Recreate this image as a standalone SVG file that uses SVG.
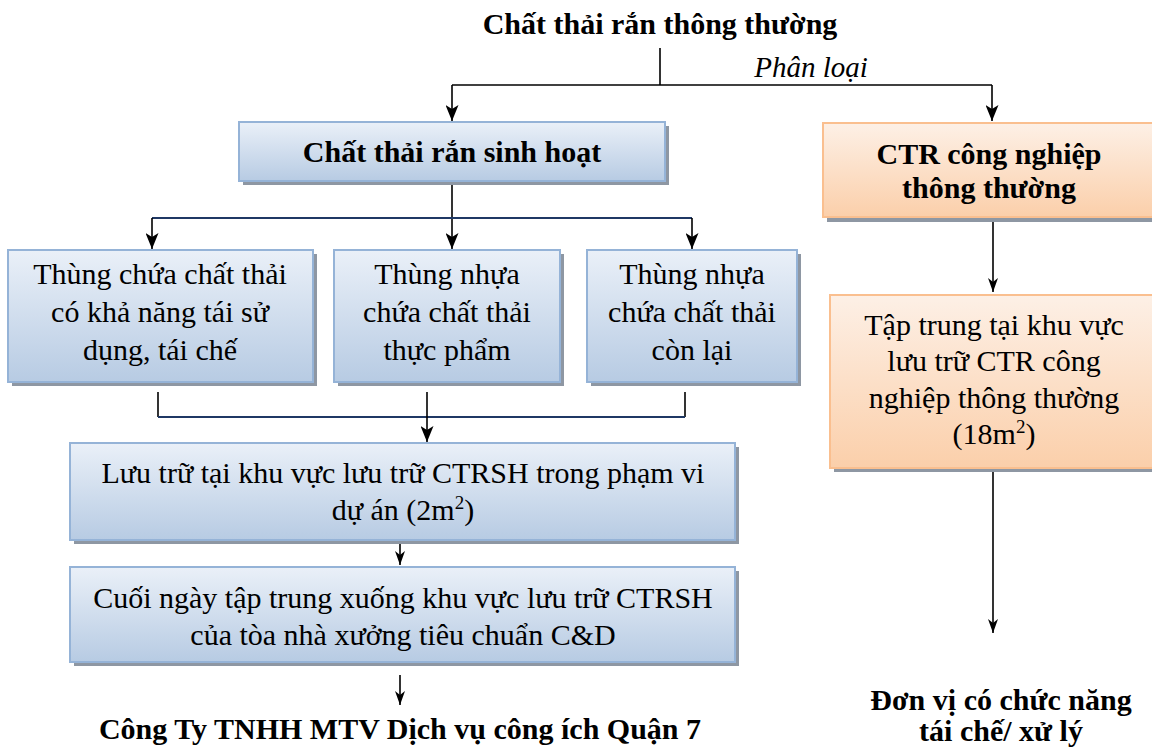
<svg xmlns="http://www.w3.org/2000/svg" width="1152" height="749" viewBox="0 0 1152 749">
<defs>
<linearGradient id="gb" x1="0" y1="0" x2="0" y2="1">
<stop offset="0" stop-color="#eaf0f8"/>
<stop offset="1" stop-color="#b7cbe3"/>
</linearGradient>
<linearGradient id="go" x1="0" y1="0" x2="0" y2="1">
<stop offset="0" stop-color="#fdf0e6"/>
<stop offset="1" stop-color="#fbcfaa"/>
</linearGradient>
<marker id="ah" viewBox="0 0 16 13" refX="16" refY="6.5" markerWidth="16" markerHeight="13" markerUnits="userSpaceOnUse" orient="auto">
<path d="M0,0 L4,6.5 L0,13 L16,6.5 z" fill="#000"/>
</marker>
<marker id="as" viewBox="0 0 14 10" refX="14" refY="5" markerWidth="14" markerHeight="10" markerUnits="userSpaceOnUse" orient="auto">
<path d="M0,0 L4,5 L0,10 L14,5 z" fill="#000"/>
</marker>
</defs>
<style>
text{font-family:"Liberation Serif","Times New Roman",serif;fill:#000;text-anchor:middle}
.b{font-weight:bold;font-size:30px}
.r{font-size:30px}
.i{font-style:italic;font-size:29px}
.sh{fill:#8e97a3}
.bb{fill:url(#gb);stroke:#95b3d7;stroke-width:2}
.ob{fill:url(#go);stroke:#fabf8f;stroke-width:2}
.ln{fill:none;stroke:#000;stroke-width:1.6}
.nv{fill:none;stroke:#1f3864;stroke-width:2}
</style>

<g id="title">
<text class="b" x="660" y="34">Chất thải rắn thông thường</text>
</g>

<g id="connectors">
<path class="ln" d="M660,48 V85"/>
<path class="ln" d="M452,85 H992"/>
<path class="ln" d="M452,85 V121" marker-end="url(#ah)"/>
<path class="ln" d="M992,85 V121" marker-end="url(#ah)"/>
<path class="ln" d="M452,182 V249" marker-end="url(#ah)"/>
<path class="nv" d="M152,218 H692"/>
<path class="ln" d="M152,218 V249" marker-end="url(#ah)"/>
<path class="ln" d="M692,218 V249" marker-end="url(#ah)"/>
<path class="ln" d="M158,392 V417"/>
<path class="ln" d="M685,392 V417"/>
<path class="nv" d="M158,417 H685"/>
<path class="ln" d="M427,392 V442" marker-end="url(#ah)"/>
<path class="ln" d="M400,541 V565" marker-end="url(#as)"/>
<path class="ln" d="M400,675 V705" marker-end="url(#as)"/>
<path class="ln" d="M993,218 V292" marker-end="url(#as)"/>
<path class="ln" d="M993,469 V633" marker-end="url(#as)"/>
</g>

<g id="phanloai">
<text class="i" x="811" y="77">Phân loại</text>
</g>

<g id="sinhhoat">
<rect class="sh" x="243" y="126" width="426" height="59"/>
<rect class="bb" x="239" y="122" width="426" height="59"/>
<text class="b" x="452" y="162">Chất thải rắn sinh hoạt</text>
</g>

<g id="congnghiep">
<rect class="sh" x="827" y="127" width="330" height="95"/>
<rect class="ob" x="823" y="123" width="335" height="94"/>
<text class="b" x="989" y="164">CTR công nghiệp</text>
<text class="b" x="989" y="198">thông thường</text>
</g>

<g id="thung1">
<rect class="sh" x="12" y="254" width="305" height="132"/>
<rect class="bb" x="8" y="250" width="305" height="132"/>
<text class="r" x="160" y="284">Thùng chứa chất thải</text>
<text class="r" x="160" y="322">có khả năng tái sử</text>
<text class="r" x="160" y="360">dụng, tái chế</text>
</g>

<g id="thung2">
<rect class="sh" x="338" y="254" width="226" height="132"/>
<rect class="bb" x="334" y="250" width="226" height="132"/>
<text class="r" x="447" y="284">Thùng nhựa</text>
<text class="r" x="447" y="322">chứa chất thải</text>
<text class="r" x="447" y="360">thực phẩm</text>
</g>

<g id="thung3">
<rect class="sh" x="591" y="254" width="210" height="132"/>
<rect class="bb" x="587" y="250" width="210" height="132"/>
<text class="r" x="692" y="284">Thùng nhựa</text>
<text class="r" x="692" y="322">chứa chất thải</text>
<text class="r" x="692" y="360">còn lại</text>
</g>

<g id="luutru">
<rect class="sh" x="74" y="447" width="665" height="97"/>
<rect class="bb" x="70" y="443" width="665" height="97"/>
<text class="r" x="403" y="483">Lưu trữ tại khu vực lưu trữ CTRSH trong phạm vi</text>
<text class="r" x="403" y="520">dự án (2m<tspan dy="-11" font-size="19">2</tspan><tspan dy="11">)</tspan></text>
</g>

<g id="cuoingay">
<rect class="sh" x="74" y="571" width="665" height="95"/>
<rect class="bb" x="70" y="567" width="665" height="95"/>
<text class="r" x="403" y="608">Cuối ngày tập trung xuống khu vực lưu trữ CTRSH</text>
<text class="r" x="403" y="645">của tòa nhà xưởng tiêu chuẩn C&amp;D</text>
</g>

<g id="congty">
<text class="b" x="400" y="739">Công Ty TNHH MTV Dịch vụ công ích Quận 7</text>
</g>

<g id="taptrung">
<rect class="sh" x="834" y="299" width="322" height="173"/>
<rect class="ob" x="830" y="295" width="325" height="173"/>
<text class="r" x="994" y="335">Tập trung tại khu vực</text>
<text class="r" x="994" y="371">lưu trữ CTR công</text>
<text class="r" x="994" y="408">nghiệp thông thường</text>
<text class="r" x="994" y="444">(18m<tspan dy="-11" font-size="19">2</tspan><tspan dy="11">)</tspan></text>
</g>

<g id="donvi">
<text class="b" x="1001" y="710">Đơn vị có chức năng</text>
<text class="b" x="1001" y="741">tái chế/ xử lý</text>
</g>
</svg>
